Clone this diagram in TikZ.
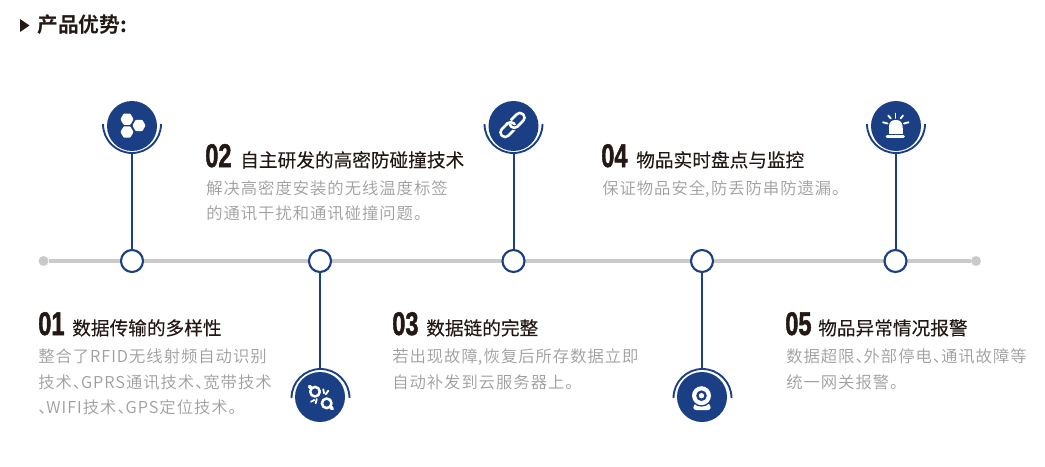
\documentclass[tikz,border=0pt]{standalone}
\usepackage{fontspec}
\usepackage{graphicx}
\newfontfamily\cjk[BoldFont={Noto Sans CJK SC Bold}]{Noto Sans CJK SC}
\newfontfamily\cjkbody[LetterSpace=6]{Noto Sans CJK SC DemiLight}
\newfontfamily\cjkmid[FakeBold=0.15]{Noto Sans CJK SC}
\newfontfamily\numf[BoldFeatures={FakeBold=1.6}]{Liberation Sans}
\newcommand{\numtxt}[1]{\scalebox{0.72}[1]{\numf\bfseries\fontsize{24.6}{24.6}\selectfont #1}}
\newcommand{\dn}{、\hspace{-0.5em}}
\newcommand{\cm}{\makebox[0.36em][l]{,}}
\definecolor{navy}{HTML}{1B3F84}
\definecolor{ink}{HTML}{231815}
\definecolor{rail}{HTML}{CACACA}
\definecolor{body}{HTML}{9E9E9E}
\tikzset{
  raildot/.style={circle,fill=rail,draw=none,minimum size=7.5pt,inner sep=0pt},
  stopdot/.style={circle,fill=white,draw=navy,line width=1.6pt,minimum size=16.5pt,inner sep=0pt},
  iconbg/.style={circle,fill=navy,draw=none,minimum size=37.5pt,inner sep=0pt},
  stem/.style={navy,line width=1.5pt},
  halo/.style={navy,line width=1.4pt},
  numlabel/.style={anchor=base west,inner sep=0pt,text=ink},
  headlabel/.style={anchor=base west,inner sep=0pt,text=ink,font=\cjkmid\fontsize{14}{16}\selectfont},
  bodylabel/.style={anchor=north west,inner sep=0pt,text=body,align=left,font=\cjkbody\fontsize{12.25}{19.2}\selectfont},
  glyph/.style={white,line width=1.9pt,line cap=round,line join=round},
  thinglyph/.style={white,line width=1.4pt,line cap=round}
}
\begin{document}
\begin{tikzpicture}[x=0.75pt,y=-0.75pt]
\useasboundingbox (0,0) rectangle (1045,467);
% heading
\fill[ink] (20,19) -- (29.5,25.5) -- (20,32) -- cycle;
\node[anchor=base west,inner sep=0pt,text=ink,font=\cjk\bfseries\fontsize{15.6}{18}\selectfont] (heading) at (37,33) {产品优势:};
% rail
\node[raildot] (railL) at (43.5,261) {};
\node[raildot] (railR) at (976,261) {};
\draw[rail,line width=2.3pt] (railL) -- (railR);
% anchors on halos
\coordinate (haloA) at (132,153);
\coordinate (haloB) at (320,368);
\coordinate (haloC) at (513.5,153);
\coordinate (haloD) at (702,368);
\coordinate (haloE) at (895.5,153);
% stops
\node[stopdot] (stopA) at (132,261) {};
\node[stopdot] (stopB) at (320,261) {};
\node[stopdot] (stopC) at (513.5,261) {};
\node[stopdot] (stopD) at (702,261) {};
\node[stopdot] (stopE) at (895.5,261) {};
\draw[stem] (stopA) -- (haloA);
\draw[stem] (stopB) -- (haloB);
\draw[stem] (stopC) -- (haloC);
\draw[stem] (stopD) -- (haloD);
\draw[stem] (stopE) -- (haloE);
% icon discs
\node[iconbg] (iconA) at (132,126) {};
\node[iconbg] (iconB) at (320,397) {};
\node[iconbg] (iconC) at (513.5,126) {};
\node[iconbg] (iconD) at (702,397) {};
\node[iconbg] (iconE) at (896,126) {};
% halos
\draw[halo] (103,124) arc[start angle=180,end angle=360,radius=21.75pt];
\draw[halo] (484.5,124) arc[start angle=180,end angle=360,radius=21.75pt];
\draw[halo] (867,124) arc[start angle=180,end angle=360,radius=21.75pt];
\draw[halo] (291.5,398) arc[start angle=180,end angle=0,radius=21.75pt];
\draw[halo] (673.5,398) arc[start angle=180,end angle=0,radius=21.75pt];
% hexagons
\foreach \cx/\cy in {127/119.2,139/125.5,127/132}{
  \fill[white,rounded corners=0.6pt] (\cx-6.6,\cy) -- (\cx-3.3,\cy-5.7) -- (\cx+3.3,\cy-5.7) -- (\cx+6.6,\cy) -- (\cx+3.3,\cy+5.7) -- (\cx-3.3,\cy+5.7) -- cycle;
}
% chain
\begin{scope}[shift={(512.5,125)},rotate=45]
  \draw[white,line width=1.9pt,rounded corners=3.2pt] (-15,-4.6) rectangle (2,4.6);
  \draw[navy,line width=3.4pt,rounded corners=3.2pt] (-2,-4.6) rectangle (15,4.6);
  \draw[white,line width=1.9pt,rounded corners=3.2pt] (-2,-4.6) rectangle (15,4.6);
  \draw[navy,line width=3.4pt] (-0.6,-4.6) -- (2,-4.6);
  \draw[white,line width=1.9pt,rounded corners=3.2pt] (-4,-4.6) -- (2,-4.6) -- (2,0);
\end{scope}
% alarm
\fill[white,rounded corners=4.5pt] (889,134) -- (889,120) -- (902.5,120) -- (902.5,134) -- cycle;
\fill[white] (889,128) rectangle (902.5,133.5);
\draw[white,line width=2.2pt,line cap=round] (887,136.8) -- (903.5,136.8);
\draw[thinglyph] (883,122.3) -- (887.5,123.5);
\draw[thinglyph] (888.2,115.5) -- (890.8,118.5);
\draw[thinglyph] (895.5,113.5) -- (895.5,118);
\draw[thinglyph] (903,115.5) -- (900.5,118.5);
\draw[thinglyph] (908.5,122.3) -- (904,123.5);
% pair of lenses
\draw[glyph] (315,391.7) circle[radius=3.6pt];
\draw[glyph] (326.7,403.3) circle[radius=3.6pt];
\draw[glyph,line width=2.6pt] (311,388) -- (309.5,386.3);
\draw[glyph,line width=2.6pt] (330.8,407.3) -- (332.3,408.6);
\draw[thinglyph] (323.3,389.3) -- (324,393.3);
\draw[thinglyph] (328.3,390.7) -- (325.7,394.3);
\draw[thinglyph] (311,401.7) -- (314.3,400);
\draw[thinglyph] (316.7,399) -- (315.7,403.3);
% camera
\fill[white,rounded corners=2pt] (693.3,410) -- (693.3,405.5) -- (697,402) -- (707,402) -- (710.7,405.5) -- (710.7,410) -- cycle;
\fill[navy] (701.5,395.7) circle[radius=8.2pt];
\fill[white] (701.5,395.7) circle[radius=7.1pt];
\fill[navy] (701.5,395.7) circle[radius=4pt];
\fill[white] (701.5,395.7) circle[radius=2pt];
% text
\node[numlabel] (n1) at (38,335) {\numtxt{01}};
\node[headlabel] (h1) at (72,335) {数据传输的多样性};
\node[bodylabel] (b1) at (38,348.5) {整合了RFID无线射频自动识别\\技术\dn GPRS通讯技术\dn 宽带技术\\\dn WIFI技术\dn GPS定位技术。};
\node[numlabel] (n2) at (205,167) {\numtxt{02}};
\node[headlabel] (h2) at (240,167) {自主研发的高密防碰撞技术};
\node[bodylabel] (b2) at (206,180) {解决高密度安装的无线温度标签\\的通讯干扰和通讯碰撞问题。};
\node[numlabel] (n3) at (392,335) {\numtxt{03}};
\node[headlabel] (h3) at (426,335) {数据链的完整};
\node[bodylabel] (b3) at (392,348.5) {若出现故障\cm 恢复后所存数据立即\\自动补发到云服务器上。};
\node[numlabel] (n4) at (601,167) {\numtxt{04}};
\node[headlabel] (h4) at (636,167) {物品实时盘点与监控};
\node[bodylabel] (b4) at (602,180) {保证物品安全\cm 防丢防串防遗漏。};
\node[numlabel] (n5) at (785,335) {\numtxt{05}};
\node[headlabel] (h5) at (818,335) {物品异常情况报警};
\node[bodylabel] (b5) at (786,348.5) {数据超限\dn 外部停电\dn 通讯故障等\\统一网关报警。};
\end{tikzpicture}
\end{document}
